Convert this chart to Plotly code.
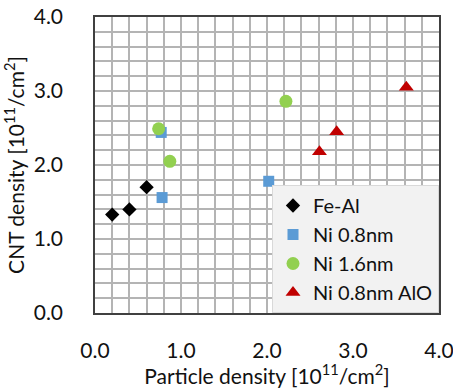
import plotly.graph_objects as go

fe_x = [0.2, 0.4, 0.6]
fe_y = [1.33, 1.40, 1.70]
ni08_x = [0.78, 0.77, 2.02]
ni08_y = [1.56, 2.44, 1.78]
ni16_x = [0.74, 0.87, 2.22]
ni16_y = [2.49, 2.05, 2.86]
alo_x = [3.62, 2.81, 2.61]
alo_y = [3.05, 2.45, 2.18]

grid_vals = [0.0, 0.2, 0.4, 0.6, 0.8, 1.0, 1.2, 1.4, 1.6, 1.8, 2.0,
             2.2, 2.4, 2.6, 2.8, 3.0, 3.2, 3.4, 3.6, 3.8, 4.0]
grid_text = ["0.0", "", "", "", "", "1.0", "", "", "", "", "2.0",
             "", "", "", "", "3.0", "", "", "", "", "4.0"]

font = "Lato, 'Open Sans', sans-serif"
fig = go.Figure()
fig.add_trace(go.Scatter(x=fe_x, y=fe_y, mode="markers", name="Fe-Al",
                         marker=dict(symbol="diamond", size=11, color="black")))
fig.add_trace(go.Scatter(x=ni08_x, y=ni08_y, mode="markers", name="Ni 0.8nm",
                         marker=dict(symbol="square", size=11, color="#5b9bd5")))
fig.add_trace(go.Scatter(x=ni16_x, y=ni16_y, mode="markers", name="Ni 1.6nm",
                         marker=dict(symbol="circle", size=13, color="#92d050")))
fig.add_trace(go.Scatter(x=alo_x, y=alo_y, mode="markers", name="Ni 0.8nm AlO",
                         marker=dict(symbol="triangle-up", size=13, color="#c00000")))

axis_common = dict(
    range=[0, 4], tickmode="array", tickvals=grid_vals, ticktext=grid_text,
    showgrid=True, gridcolor="#b4b4b4", gridwidth=1.6,
    showline=True, linecolor="#404040", linewidth=1.5, mirror=True,
    zeroline=False, ticklabeloverflow="allow",
    tickfont=dict(size=21, color="#111111", family=font),
)
fig.update_xaxes(**axis_common, ticklabelstandoff=18,
                 title=dict(text="Particle density [10<sup>11</sup>/cm<sup>2</sup>]",
                            font=dict(size=21, color="#111111", family=font), standoff=6))
fig.update_yaxes(**axis_common, ticklabelstandoff=26,
                 title=dict(text="CNT density [10<sup>11</sup>/cm<sup>2</sup>]",
                            font=dict(size=21, color="#111111", family=font), standoff=4))

fig.update_layout(
    template="none",
    width=453, height=388,
    margin=dict(l=95, r=14, t=17, b=75),
    plot_bgcolor="rgba(255,255,255,0)", paper_bgcolor="white",
    legend=dict(x=1, xanchor="right", y=0, yanchor="bottom",
                bgcolor="#f2f2f2", bordercolor="#d9d9d9", borderwidth=1,
                font=dict(size=20, color="#111111", family=font),
                itemwidth=30),
    showlegend=True,
)
fig.write_html("out.html")
